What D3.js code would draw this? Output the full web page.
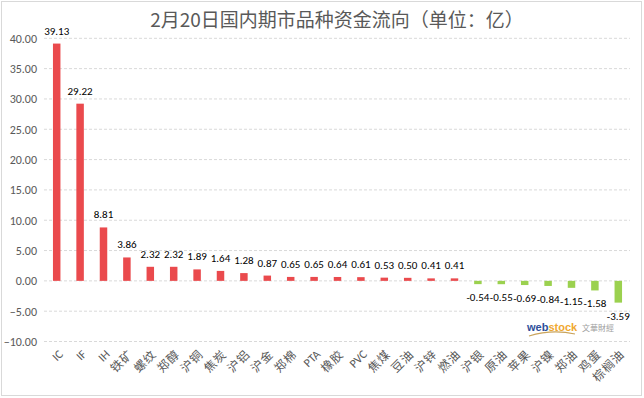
<!DOCTYPE html>
<html><head><meta charset="utf-8">
<script src="https://cdn.jsdelivr.net/npm/d3@7"></script>
<style>body{margin:0;background:#fff;}svg{display:block;font-family:"Microsoft YaHei","Noto Sans CJK SC","DejaVu Sans",sans-serif;}</style>
</head><body><svg id="c" width="644" height="398"></svg>
<script>
const categories = ["IC","IF","IH","铁矿","螺纹","郑醇","沪铜","焦炭","沪铝","沪金","郑棉","PTA","橡胶","PVC","焦煤","豆油","沪锌","燃油","沪银","原油","苹果","沪镍","郑油","鸡蛋","棕榈油"];
const values = [39.13,29.22,8.81,3.86,2.32,2.32,1.89,1.64,1.28,0.87,0.65,0.65,0.64,0.61,0.53,0.50,0.41,0.41,-0.54,-0.55,-0.69,-0.84,-1.15,-1.58,-3.59];
const yTicks = [-10,-5,0,5,10,15,20,25,30,35,40];
const title = "2月20日国内期市品种资金流向（单位：亿）";

const svg = d3.select("#c");
svg.append("rect").attr("x",1.5).attr("y",1.5).attr("width",640).attr("height",394)
  .attr("fill","#fff").attr("stroke","#d9d9d9");

const x = d3.scaleBand().domain(categories).range([45,630]).paddingInner(0.68).paddingOuter(0.34);
const y = d3.scaleLinear().domain([-10,40]).range([341.5,38.3]);

// gridlines
svg.append("g").selectAll("line").data(yTicks).join("line")
  .attr("x1",44).attr("x2",630).attr("y1",d=>y(d)).attr("y2",d=>y(d))
  .attr("stroke","#d9d9d9").attr("stroke-dasharray","3,2").attr("stroke-width",1);

// y axis
const yAxis = d3.axisLeft(y).tickValues(yTicks).tickFormat(d3.format(".2f")).tickSize(0).tickPadding(0);
const ya = svg.append("g").attr("transform","translate(37,0)").call(yAxis);
ya.select(".domain").remove();
ya.selectAll("text").attr("fill","#595959").attr("font-size","12px").attr("font-family","Calibri,Carlito,'Liberation Sans',sans-serif");

// bars
svg.append("g").selectAll("rect").data(values).join("rect")
  .attr("x",(d,i)=>x(categories[i]))
  .attr("width",x.bandwidth())
  .attr("y",d=>y(Math.max(0,d)))
  .attr("height",d=>Math.abs(y(d)-y(0)))
  .attr("fill",d=>d>=0?"#ea4a4d":"#9bd14f");

// data labels
svg.append("g").selectAll("text").data(values).join("text")
  .attr("x",(d,i)=>x(categories[i])+x.bandwidth()/2)
  .attr("y",d=>d>=0? y(d)-9 : y(d)+17)
  .attr("text-anchor","middle")
  .attr("font-size","11px").attr("fill","#000")
  .attr("font-family","Calibri,Carlito,'Liberation Sans',sans-serif")
  .text(d=>d.toFixed(2));

// category axis labels
const xa = svg.append("g");
xa.selectAll("text").data(categories).join("text")
  .attr("transform",d=>`translate(${x(d)+x.bandwidth()/2+4},352) rotate(-45)`)
  .attr("text-anchor","end").attr("dy","0.35em")
  .attr("font-size","12px").attr("fill","#595959")
  .attr("letter-spacing",d=>/[A-Z]/.test(d)?"0px":"1px")
  .attr("font-family","Calibri,Carlito,'Liberation Sans','Noto Sans CJK SC',sans-serif")
  .text(d=>d);

// title
svg.append("text").attr("x",337).attr("y",27).attr("text-anchor","middle")
  .attr("font-size","19px").attr("fill","#595959").text(title);

// watermark logo
const logo = svg.append("g").attr("transform","translate(527,331)");
logo.append("path").attr("d","M2,5 Q25,-2 48,3").attr("fill","none").attr("stroke","#c9a35a").attr("stroke-width",1.2);
logo.append("text").attr("x",0).attr("y",0).attr("font-size","11px").attr("font-weight","bold")
  .attr("font-family","Arial,'Liberation Sans',sans-serif")
  .selectAll("tspan").data([["web","#2e4f9c"],["stock","#f0a830"]]).join("tspan")
  .attr("fill",d=>d[1]).text(d=>d[0]);
logo.append("text").attr("x",55).attr("y",0).attr("font-size","8px").attr("fill","#a0a0a0").text("文華財經");
</script></body></html>
